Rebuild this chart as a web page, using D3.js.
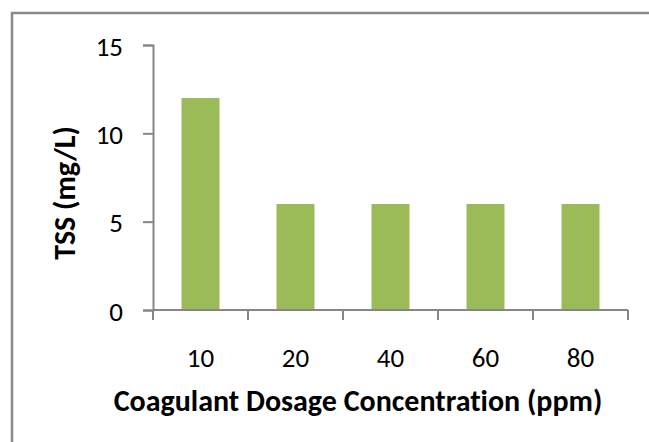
<!DOCTYPE html>
<html>
<head>
<meta charset="utf-8">
<script src="https://cdn.jsdelivr.net/npm/d3@7"></script>
<style>
  body { margin: 0; background: #fff; }
  text { font-family: Carlito, Calibri, Lato, sans-serif; fill: #000; font-variant-ligatures: none; }
</style>
</head>
<body>
<script>
// dosage categories (ppm) and TSS readings (mg/L)
const dosages = ["10", "20", "40", "60", "80"];
const tss = [12, 6, 6, 6, 6];
const yTicks = [0, 5, 10, 15];

const width = 649, height = 442;
const margin = { top: 45, right: 21, bottom: 132, left: 153 };

const svg = d3.select("body").append("svg")
    .attr("width", width)
    .attr("height", height);

// chart frame, runs off the right and bottom of the picture
svg.append("rect")
    .attr("x", 12).attr("y", 13)
    .attr("width", 800).attr("height", 600)
    .style("fill", "none")
    .style("stroke", "#8a8a8a")
    .style("stroke-width", 2.5);

const x = d3.scaleBand()
    .domain(dosages)
    .range([margin.left, width - margin.right])
    .paddingInner(0.6)
    .paddingOuter(0.3);

const y = d3.scaleLinear()
    .domain([0, 15])
    .range([height - margin.bottom, margin.top]);

const x0 = margin.left, y0 = height - margin.bottom;

svg.selectAll("rect.bar")
    .data(tss)
    .enter().append("rect")
    .attr("class", "bar")
    .attr("x", (d, i) => x(dosages[i]))
    .attr("y", d => y(d))
    .attr("width", x.bandwidth())
    .attr("height", d => y(0) - y(d))
    .style("fill", "#9bbb59");

// y axis
const yAxis = svg.append("g")
    .attr("transform", "translate(" + x0 + ",0)")
    .call(d3.axisLeft(y).tickValues(yTicks).tickSize(10).tickPadding(20));

// x axis: ticks at category boundaries
const step = x.step();
const bounds = d3.range(dosages.length + 1).map(i => x0 + i * step);
const xAxis = svg.append("g");
xAxis.append("line")
    .attr("x1", x0).attr("x2", bounds[bounds.length - 1])
    .attr("y1", y0).attr("y2", y0);
xAxis.selectAll("line.tk")
    .data(bounds)
    .enter().append("line")
    .attr("class", "tk")
    .attr("x1", d => d).attr("x2", d => d)
    .attr("y1", y0).attr("y2", y0 + 10);
xAxis.selectAll("line")
    .style("stroke", "#868686")
    .style("stroke-width", 2);

xAxis.selectAll("text")
    .data(dosages)
    .enter().append("text")
    .attr("x", d => x(d) + x.bandwidth() / 2)
    .attr("y", 367)
    .attr("text-anchor", "middle")
    .style("font-size", "27px")
    .text(d => d);

yAxis.select(".domain").style("stroke", "#868686").style("stroke-width", 2);
yAxis.selectAll(".tick line").style("stroke", "#868686").style("stroke-width", 2);
yAxis.selectAll(".tick text")
    .style("font-size", "27px")
    .style("font-family", "Carlito, Calibri, Lato, sans-serif")
    .attr("dy", "0.38em")
    .attr("fill", "#000");

// axis titles
svg.append("text")
    .attr("x", 358)
    .attr("y", 411)
    .attr("text-anchor", "middle")
    .style("font-size", "30px")
    .style("font-weight", "bold")
    .text("Coagulant Dosage Concentration (ppm)");

svg.append("text")
    .attr("transform", "translate(75,193) rotate(-90)")
    .attr("text-anchor", "middle")
    .style("font-size", "30px")
    .style("font-weight", "bold")
    .text("TSS (mg/L)");
</script>
</body>
</html>
